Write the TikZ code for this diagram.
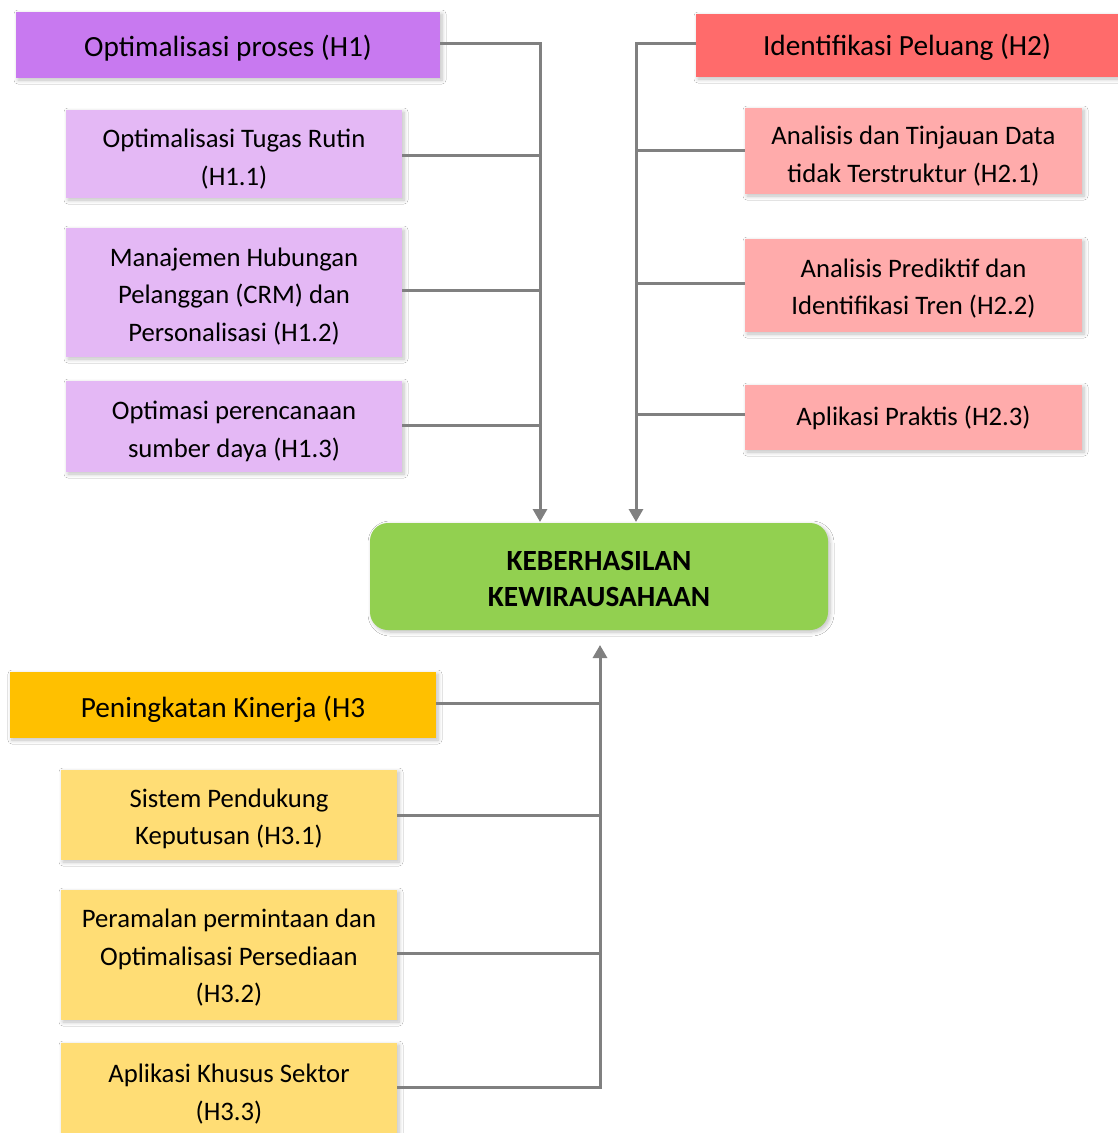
\documentclass[tikz,border=0pt]{standalone}
\usepackage{fontspec}
\setmainfont{Carlito}
\usetikzlibrary{shadows.blur,arrows.meta,calc}
\definecolor{pA}{HTML}{C879F0}
\definecolor{pB}{HTML}{E4B8F5}
\definecolor{rA}{HTML}{FF6B6B}
\definecolor{rB}{HTML}{FFABAB}
\definecolor{gA}{HTML}{92D050}
\definecolor{yA}{HTML}{FFC000}
\definecolor{yB}{HTML}{FFDD75}
\definecolor{ln}{HTML}{808080}
\tikzset{
  box/.style={draw=none, inner sep=0pt,
     blur shadow={shadow blur steps=6, shadow xshift=2pt, shadow yshift=-2pt, shadow blur radius=4pt, shadow opacity=25}},
  tb/.style 2 args={label={[align=center, inner sep=0pt, font=\fontsize{26.7}{37.5}\selectfont, yshift=-#1pt]center:{#2}}},
  th/.style 2 args={label={[align=center, inner sep=0pt, font=\fontsize{29.3}{32}\selectfont, yshift=-#1pt]center:{#2}}},
  tc/.style 2 args={label={[align=center, inner sep=0pt, font=\fontsize{29.3}{36}\selectfont\bfseries, yshift=-#1pt]center:{#2}}},
  conn/.style={draw=ln, line width=3pt},
  arr/.style={conn, -{Triangle[width=14pt,length=13pt]}},
}
\begin{document}
\begin{tikzpicture}[x=1pt,y=-1pt]
\useasboundingbox[fill=white] (0,0) rectangle (1118,1133);
% left group
\node[box, fill=pA, minimum width=424pt, minimum height=66pt, th={3}{Optimalisasi proses (H1)}] (h1) at (228,45) {};
\node[box, fill=pB, minimum width=336pt, minimum height=88pt, tb={5}{Optimalisasi Tugas Rutin\\(H1.1)}] (h11) at (234,154) {};
\node[box, fill=pB, minimum width=336pt, minimum height=129pt, tb={4}{Manajemen Hubungan\\Pelanggan (CRM) dan\\Personalisasi (H1.2)}] (h12) at (234,292.5) {};
\node[box, fill=pB, minimum width=336pt, minimum height=91pt, tb={5}{Optimasi perencanaan\\sumber daya (H1.3)}] (h13) at (234,426.5) {};
% right group
\node[box, fill=rA, minimum width=422pt, minimum height=63pt, th={2}{Identifikasi Peluang (H2)}] (h2) at (907,45.5) {};
\node[box, fill=rB, minimum width=337pt, minimum height=86pt, tb={5}{Analisis dan Tinjauan Data\\tidak Terstruktur (H2.1)}] (h21) at (913.5,151) {};
\node[box, fill=rB, minimum width=337pt, minimum height=93pt, tb={3}{Analisis Prediktif dan\\Identifikasi Tren (H2.2)}] (h22) at (913.5,285.5) {};
\node[box, fill=rB, minimum width=337pt, minimum height=65pt, tb={0}{Aplikasi Praktis (H2.3)}] (h23) at (913.5,417.5) {};
% center
\node[box, fill=gA, rounded corners=18pt, minimum width=458pt, minimum height=107pt, tc={2}{KEBERHASILAN\\KEWIRAUSAHAAN}] (c) at (599,576.5) {};
% bottom group
\node[box, fill=yA, minimum width=426pt, minimum height=66pt, th={4}{Peningkatan Kinerja (H3}] (h3) at (223,705) {};
\node[box, fill=yB, minimum width=336pt, minimum height=90pt, tb={4}{Sistem Pendukung\\Keputusan (H3.1)}] (h31) at (229,815) {};
\node[box, fill=yB, minimum width=336pt, minimum height=130pt, tb={3}{Peramalan permintaan dan\\Optimalisasi Persediaan\\(H3.2)}] (h32) at (229,955) {};
\node[box, fill=yB, minimum width=336pt, minimum height=100pt, tb={1}{Aplikasi Khusus Sektor\\(H3.3)}] (h33) at (229,1093) {};
% connectors
\coordinate (aL) at (540,522);
\coordinate (aR) at (636,522);
\coordinate (aB) at (600,645);
\coordinate (y43) at (0,43);
\coordinate (y150) at (0,150);
\coordinate (y155) at (0,155);
\coordinate (y283) at (0,283);
\coordinate (y290) at (0,290);
\coordinate (y414) at (0,414);
\coordinate (y425) at (0,425);
\coordinate (y703) at (0,703);
\coordinate (y815) at (0,815);
\coordinate (y953) at (0,953);
\coordinate (y1087) at (0,1087);
\draw[arr] (h1.east |- y43) -| (aL);
\draw[conn] (h11.east |- y155) -- (aL |- y155);
\draw[conn] (h12.east |- y290) -- (aL |- y290);
\draw[conn] (h13.east |- y425) -- (aL |- y425);
\draw[arr] (h2.west |- y43) -| (aR);
\draw[conn] (h21.west |- y150) -- (aR |- y150);
\draw[conn] (h22.west |- y283) -- (aR |- y283);
\draw[conn] (h23.west |- y414) -- (aR |- y414);
\draw[arr] (h33.east |- y1087) -| (aB);
\draw[conn] (h3.east |- y703) -- (aB |- y703);
\draw[conn] (h31.east |- y815) -- (aB |- y815);
\draw[conn] (h32.east |- y953) -- (aB |- y953);
\end{tikzpicture}
\end{document}
